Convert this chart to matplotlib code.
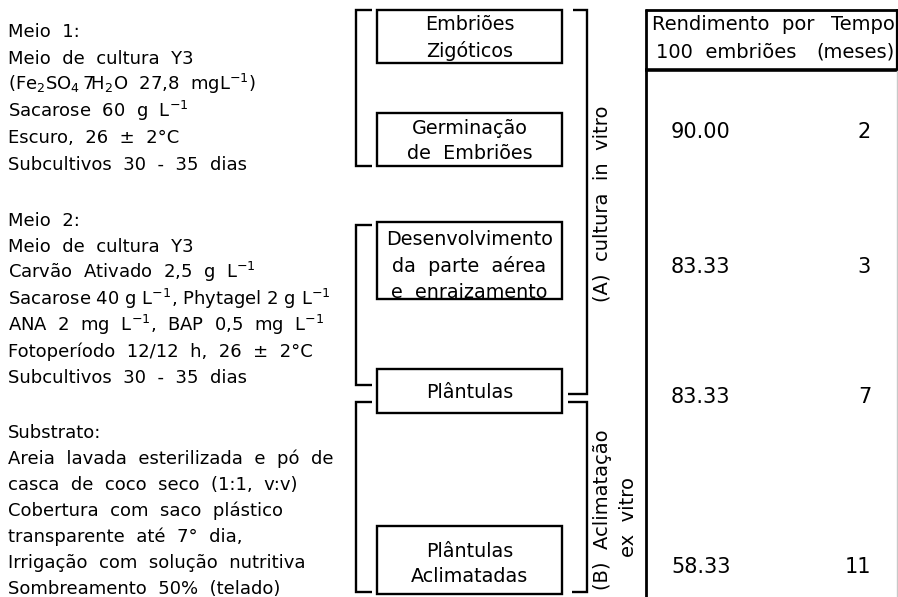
import matplotlib
matplotlib.use("Agg")
import matplotlib.pyplot as plt
from matplotlib.patches import Rectangle

plt.rcParams['font.family'] = ['DejaVu Sans']
plt.rcParams['mathtext.default'] = 'regular'

# ---------------- data ----------------
meio1_lines = ["Meio  1:",
               "Meio  de  cultura  Y3",
               "(Fe$_2$SO$_4$$\\,$7H$_2$O  27,8  mgL$^{-1}$)",
               "Sacarose  60  g  L$^{-1}$",
               "Escuro,  26  ±  2°C",
               "Subcultivos  30  -  35  dias"]
meio2_lines = ["Meio  2:",
               "Meio  de  cultura  Y3",
               "Carvão  Ativado  2,5  g  L$^{-1}$",
               "Sacarose 40 g L$^{-1}$, Phytagel 2 g L$^{-1}$",
               "ANA  2  mg  L$^{-1}$,  BAP  0,5  mg  L$^{-1}$",
               "Fotoperíodo  12/12  h,  26  ±  2°C",
               "Subcultivos  30  -  35  dias"]
substrato_lines = ["Substrato:",
                   "Areia  lavada  esterilizada  e  pó  de",
                   "casca  de  coco  seco  (1:1,  v:v)",
                   "Cobertura  com  saco  plástico",
                   "transparente  até  7°  dia,",
                   "Irrigação  com  solução  nutritiva",
                   "Sombreamento  50%  (telado)"]

stage_labels = ["Embriões\nZigóticos",
                "Germinação\nde  Embriões",
                "Desenvolvimento\nda  parte  aérea\ne  enraizamento",
                "Plântulas",
                "Plântulas\nAclimatadas"]

phase_a_label = "(A)  cultura  in  vitro"
phase_b_label1 = "(B)  Aclimatação"
phase_b_label2 = "ex  vitro"

header_col1 = ["Rendimento  por", "100  embriões"]
header_col2 = ["Tempo", "(meses)"]
rendimento = [90.00, 83.33, 83.33, 58.33]
tempo = [2, 3, 7, 11]

# ---------------- layout (pixel coordinates) ----------------
W, H = 898, 597
fig = plt.figure(figsize=(W / 100, H / 100), dpi=100)
ax = fig.add_axes([0, 0, 1, 1])
ax.set_xlim(0, W)
ax.set_ylim(H, 0)
ax.axis('off')

LW = 1.7
txt_fs = 13

# left text blocks
blocks = [(meio1_lines, 37, 26.6), (meio2_lines, 226, 26.2), (substrato_lines, 438, 26.0)]
for lines, y0, step in blocks:
    for i, s in enumerate(lines):
        ax.text(8, y0 + i * step, s, fontsize=txt_fs, ha='left', va='baseline')

# boxes
box_x0, box_x1 = 377, 562
box_ys = [(10, 63), (113, 166), (222, 299), (369, 413), (526, 594)]
box_text_y = [38, 141, 266, 392, 564]
for (y0, y1), lab, ty in zip(box_ys, stage_labels, box_text_y):
    ax.add_patch(Rectangle((box_x0, y0), box_x1 - box_x0, y1 - y0,
                           fill=False, lw=LW, ec='black', zorder=3))
    ax.text((box_x0 + box_x1) / 2, ty, lab, fontsize=13.8, ha='center',
            va='center', multialignment='center', linespacing=1.45)

# left brackets
for (y0, y1) in [(10, 166), (225, 385), (402, 592)]:
    ax.plot([372, 355.5, 355.5, 372], [y0, y0, y1, y1], color='black',
            lw=LW, solid_joinstyle='miter', solid_capstyle='butt')

# right brackets
ax.plot([573, 587, 587, 568], [10, 10, 394, 394], color='black', lw=LW,
        solid_joinstyle='miter', solid_capstyle='butt')
ax.plot([568, 587, 587, 572], [402, 402, 592, 592], color='black', lw=LW,
        solid_joinstyle='miter', solid_capstyle='butt')

# phase labels
ax.text(602, 204, phase_a_label, fontsize=14, rotation=90, ha='center', va='center')
ax.text(602, 510, phase_b_label1, fontsize=14, rotation=90, ha='center', va='center')
ax.text(628, 517, phase_b_label2, fontsize=14, rotation=90, ha='center', va='center')

# table frame
ax.plot([646, 646], [9, H], color='black', lw=2.0, solid_capstyle='butt')
ax.plot([645, 897], [10, 10], color='black', lw=2.0, solid_capstyle='butt')
ax.plot([645, 897], [70, 70], color='black', lw=2.6, solid_capstyle='butt')
ax.plot([896.5, 896.5], [9, 71], color='black', lw=1.6, solid_capstyle='butt')
ax.plot([896.5, 896.5], [71, H], color='#c8c8c8', lw=1.0)

# header
hy = [24, 52]
hx = [652, 656]
for x, y, s in zip(hx, hy, header_col1):
    ax.text(x, y, s, fontsize=14, ha='left', va='center')
for y, s in zip(hy, header_col2):
    ax.text(895, y, s, fontsize=14, ha='right', va='center')

# table values
row_y = [132, 267, 397, 567]
for y, r, t in zip(row_y, rendimento, tempo):
    ax.text(671, y, f"{r:.2f}", fontsize=15, ha='left', va='center')
    ax.text(871, y, f"{t}", fontsize=15, ha='right', va='center')

fig.savefig("out.png", dpi=100)
